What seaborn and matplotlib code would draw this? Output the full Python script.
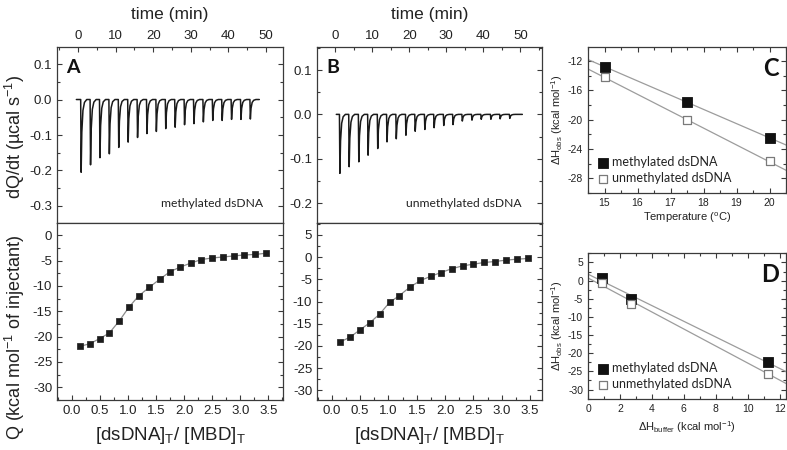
import numpy as np
import pandas as pd
import matplotlib
matplotlib.use("Agg")
import matplotlib.pyplot as plt
import seaborn as sns
from matplotlib.ticker import MultipleLocator, FormatStrFormatter

# ---------------- data ----------------
# Panel A (methylated) raw thermogram: injection times (min) and peak heights (ucal/s)
inj_time_A = [0.7, 3.2, 5.7, 8.2, 10.7, 13.2, 15.7, 18.2, 20.7, 23.2,
              25.7, 28.2, 30.7, 33.2, 35.7, 38.2, 40.7, 43.2, 45.7]
peak_A = [-0.205, -0.184, -0.164, -0.153, -0.135, -0.120, -0.107, -0.096, -0.090, -0.082,
          -0.078, -0.071, -0.068, -0.063, -0.059, -0.059, -0.056, -0.056, -0.055]
base_span_A = [-0.45, 48.2]

# Panel B (unmethylated) raw thermogram
inj_time_B = [1.2, 3.7, 6.3, 8.8, 11.4, 13.9, 16.4, 19.0, 21.5, 24.1,
              26.6, 29.2, 31.7, 34.2, 36.8, 39.3, 41.9, 44.4, 47.0]
peak_B = [-0.133, -0.118, -0.107, -0.092, -0.077, -0.062, -0.055, -0.047, -0.038, -0.034,
          -0.030, -0.025, -0.023, -0.015, -0.013, -0.011, -0.011, -0.010, -0.009]
base_span_B = [0.35, 50.5]

# Integrated heats (kcal/mol of injectant) vs molar ratio
ratio = [0.154, 0.326, 0.497, 0.67, 0.848, 1.02, 1.19, 1.38, 1.566, 1.75,
         1.93, 2.12, 2.31, 2.50, 2.69, 2.88, 3.07, 3.27, 3.46]
Q_A = [-21.9, -21.4, -20.4, -19.3, -16.9, -14.2, -12.0, -10.3, -8.7, -7.2,
       -6.3, -5.5, -4.8, -4.5, -4.3, -4.1, -3.9, -3.8, -3.55]
Q_B = [-19.1, -18.0, -16.4, -14.8, -12.8, -10.2, -8.7, -6.75, -5.26, -4.3,
       -3.46, -2.6, -1.96, -1.58, -1.2, -0.98, -0.68, -0.45, -0.3]

# Panel C: dH_obs vs temperature
temp_C = [15.0, 17.5, 20.0]
dH_meth_C = [-12.8, -17.6, -22.5]
dH_unmeth_C = [-14.2, -20.1, -25.7]

# Panel D: dH_obs vs dH_buffer
dHbuf_D = [0.85, 2.7, 11.3]
dH_meth_D = [0.7, -5.0, -22.5]
dH_unmeth_D = [-0.6, -6.4, -25.6]

label_meth = "methylated dsDNA"
label_unmeth = "unmethylated dsDNA"

# ---------------- style ----------------
sns.set_style("ticks")
plt.rcParams['font.family'] = ['Liberation Sans', 'DejaVu Sans']
plt.rcParams['axes.unicode_minus'] = False
plt.rcParams['mathtext.fontset'] = 'custom'
plt.rcParams['mathtext.rm'] = 'Liberation Sans'
plt.rcParams['mathtext.it'] = 'Liberation Sans:italic'
plt.rcParams['mathtext.bf'] = 'Liberation Sans:bold'
plt.rcParams['mathtext.default'] = 'regular'

W, H = 787, 450
fig = plt.figure(figsize=(W / 100, H / 100), dpi=100)

SP = '#3a3a3a'
TXT = '#222222'


def rect(l, r, t, b):
    return [l / W, 1 - b / H, (r - l) / W, (b - t) / H]


def style(ax, xmaj, xmin, ymaj, ymin, top=False, lsize=9.5):
    for s in ax.spines.values():
        s.set_color(SP)
        s.set_linewidth(0.9)
        s.set_visible(True)
    ax.xaxis.set_major_locator(MultipleLocator(xmaj))
    ax.xaxis.set_minor_locator(MultipleLocator(xmin))
    ax.yaxis.set_major_locator(MultipleLocator(ymaj))
    ax.yaxis.set_minor_locator(MultipleLocator(ymin))
    ax.tick_params(which='both', direction='in', colors=SP, labelcolor=TXT,
                   labelsize=lsize, width=0.8)
    ax.tick_params(which='major', length=3.5)
    ax.tick_params(which='minor', length=2.2)


def thermogram(times, peaks, span):
    xs, ys = [span[0]], [0.0]
    for t, a in zip(times, peaks):
        for dt, f in [(0.0, 0.0), (0.12, 1.0), (0.3, 0.45), (0.6, 0.15), (1.0, 0.04), (1.6, 0.0)]:
            xs.append(t + dt)
            ys.append(a * f)
    xs.append(span[1])
    ys.append(0.0)
    return pd.DataFrame({'t': xs, 'p': ys})


def top_panel(rc, times, peaks, span, xlim, ylim, letter, note, notex):
    ax = fig.add_axes(rc)
    df = thermogram(times, peaks, span)
    sns.lineplot(data=df, x='t', y='p', sort=False, estimator=None, color='#1a1a1a',
                 lw=1.1, ax=ax)
    ax.set_xlim(*xlim)
    ax.set_ylim(*ylim)
    style(ax, 10, 5, 0.1, 0.05)
    ax.xaxis.tick_top()
    ax.xaxis.set_label_position('top')
    ax.tick_params(axis='y', which='both', left=True, right=True)
    ax.tick_params(axis='x', which='both', top=True, bottom=False)
    ax.yaxis.set_major_formatter(FormatStrFormatter('%.1f'))
    ax.set_xlabel('time (min)', fontsize=12.5, color=TXT, labelpad=8)
    ax.set_ylabel('')
    ax.text(0.04, 0.93, letter, transform=ax.transAxes, fontsize=14, fontweight='bold',
            family='Lato', ha='left', va='top', color='#111111')
    ax.text(notex, 0.11, note, transform=ax.transAxes, fontsize=8.7, family='Lato',
            ha='right', va='center', color=TXT)
    return ax


def bottom_panel(rc, qvals, xlim, ylim):
    ax = fig.add_axes(rc)
    sns.lineplot(x=ratio, y=qvals, sort=False, estimator=None, color='#8a8a8a', lw=0.9, ax=ax)
    sns.scatterplot(x=ratio, y=qvals, marker='s', s=14, color='#1c1c1c', edgecolor='#1c1c1c',
                    linewidth=0.5, ax=ax, zorder=3)
    ax.set_xlim(*xlim)
    ax.set_ylim(*ylim)
    style(ax, 0.5, 0.25, 5, 2.5)
    ax.tick_params(axis='y', which='both', left=True, right=True)
    ax.tick_params(axis='x', which='both', bottom=True, top=False)
    ax.xaxis.set_major_formatter(FormatStrFormatter('%.1f'))
    ax.set_xlabel(r'[dsDNA]$_\mathrm{T}$/ [MBD]$_\mathrm{T}$', fontsize=13.5, color=TXT, labelpad=6)
    ax.set_ylabel('')
    return ax


# Panels A and B
top_panel(rect(57, 283, 47, 223), inj_time_A, peak_A, base_span_A, (-5.6, 54.5),
          (-0.348, 0.148), 'A', label_meth, 0.91)
bottom_panel(rect(57, 283, 223, 400), Q_A, (-0.26, 3.76), (-32.5, 2.4))
top_panel(rect(317, 542, 47, 223), inj_time_B, peak_B, base_span_B, (-4.85, 55.8),
          (-0.245, 0.152), 'B', label_unmeth, 0.91)
bottom_panel(rect(317, 542, 223, 400), Q_B, (-0.26, 3.71), (-32.2, 7.7))

fig.text(15 / W, 1 - 137 / H, r'dQ/dt (µcal s$^{-1}$)', rotation=90, ha='center', va='center',
         fontsize=13, color=TXT)
fig.text(15 / W, 1 - 337 / H, r'Q (kcal mol$^{-1}$ of injectant)', rotation=90, ha='center',
         va='center', fontsize=13, color=TXT)


def small_panel(rc, x, y1, y2, xlim, ylim, xmaj, xmin, ymaj, ymin, letter, xlabel, ylabel, xpad):
    ax = fig.add_axes(rc)
    ax.set_xlim(*xlim)
    ax.set_ylim(*ylim)
    for yy in (y1, y2):
        sns.regplot(x=x, y=yy, scatter=False, ci=None, truncate=False,
                    line_kws=dict(color='#9c9c9c', lw=0.9), ax=ax)
    sns.scatterplot(x=x, y=y1, marker='s', s=42, color='#111111', edgecolor='#111111',
                    linewidth=0.6, ax=ax, zorder=3, label=label_meth)
    sns.scatterplot(x=x, y=y2, marker='s', s=38, color='white', edgecolor='#7a7a7a',
                    linewidth=0.9, ax=ax, zorder=3, label=label_unmeth)
    ax.set_xlim(*xlim)
    ax.set_ylim(*ylim)
    style(ax, xmaj, xmin, ymaj, ymin, lsize=7.5)
    ax.tick_params(which='both', top=True, right=True, bottom=True, left=True)
    ax.set_xlabel(xlabel, fontsize=8, color=TXT, labelpad=xpad)
    ax.set_ylabel(ylabel, fontsize=8, color=TXT, labelpad=2)
    leg = ax.legend(loc='lower left', frameon=False, prop=dict(family='Lato', size=9),
                    handletextpad=0.25, borderaxespad=0.3, labelspacing=0.3,
                    markerscale=1.0, handlelength=1.0)
    for t in leg.get_texts():
        t.set_color(TXT)
    ax.text(0.965, 0.93, letter, transform=ax.transAxes, fontsize=17, fontweight='bold',
            family='Lato', ha='right', va='top', color='#111111')
    return ax


axC = small_panel(rect(588, 786, 47, 193), temp_C, dH_meth_C, dH_unmeth_C, (14.5, 20.5),
                  (-30.0, -10.1), 1, 0.5, 4, 2, 'C', r'Temperature ($^o$C)',
                  r'$\Delta$H$_{obs}$ (kcal mol$^{-1}$)', 2)
axD = small_panel(rect(588, 786, 253, 399), dHbuf_D, dH_meth_D, dH_unmeth_D, (0, 12.4),
                  (-32.6, 7.6), 2, 1, 5, 2.5, 'D', r'$\Delta$H$_{buffer}$ (kcal mol$^{-1}$)',
                  r'$\Delta$H$_{obs}$ (kcal mol$^{-1}$)', 4)

fig.savefig('out.png', dpi=100)
